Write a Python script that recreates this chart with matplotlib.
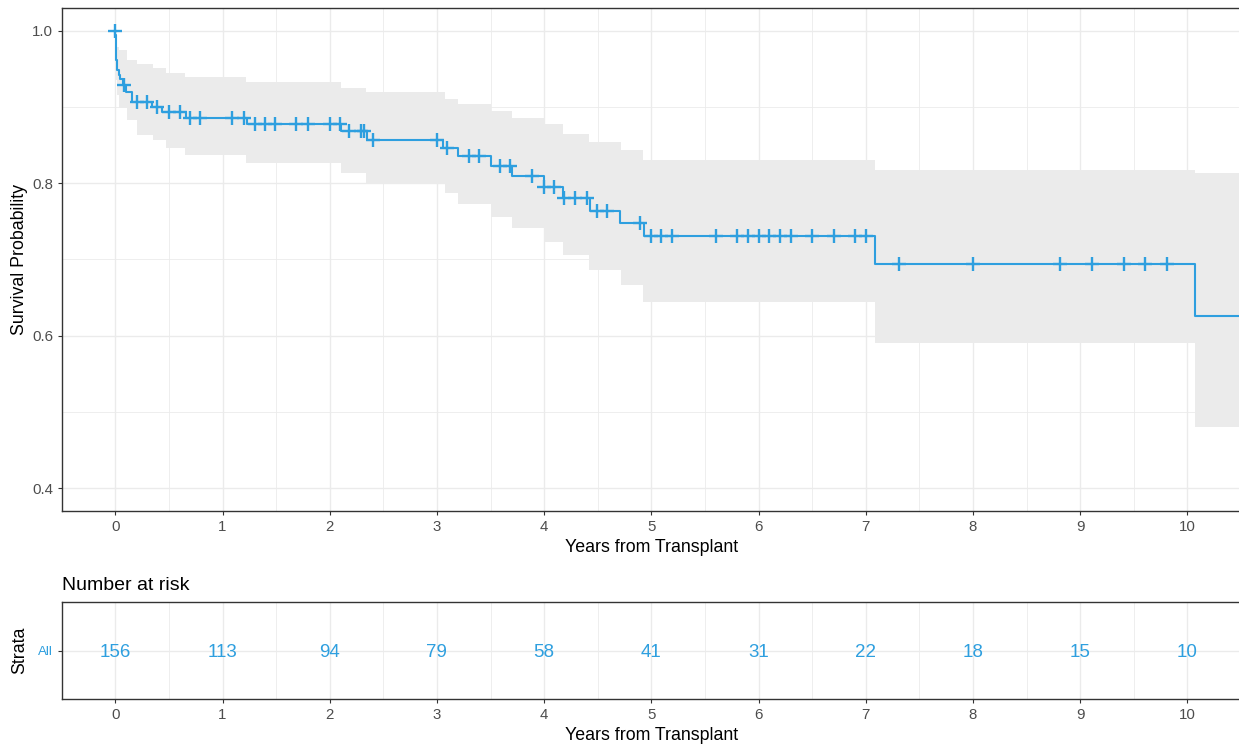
import numpy as np
import matplotlib
matplotlib.use("Agg")
import matplotlib.pyplot as plt
from matplotlib.ticker import MultipleLocator

plt.rcParams['font.family'] = ['Liberation Sans', 'DejaVu Sans']

# ---------------- data ----------------
event_times = [0, 0.001, 0.002, 0.003, 0.004, 0.005, 0.01, 0.015, 0.02, 0.03, 0.04,
               0.07, 0.10, 0.16, 0.34, 0.44, 0.66, 1.23, 2.11, 2.35, 3.06, 3.2,
               3.5, 3.7, 4.0, 4.18, 4.425, 4.71, 4.93, 7.09, 10.07]
surv = [1.0, 0.994, 0.987, 0.981, 0.974, 0.968, 0.962, 0.955, 0.949, 0.942, 0.936,
        0.929, 0.920, 0.907, 0.900, 0.893, 0.885, 0.877, 0.868, 0.857, 0.846, 0.835,
        0.823, 0.810, 0.795, 0.780, 0.764, 0.748, 0.731, 0.694, 0.626]
end_time = 10.5

ci_times = [0, 0.005, 0.01, 0.02, 0.03, 0.105, 0.2, 0.355, 0.47, 0.65, 1.22, 2.11,
            2.34, 3.08, 3.2, 3.5, 3.7, 4.0, 4.18, 4.42, 4.72, 4.92, 7.09, 10.07]
ci_upper = [1.0, 0.992, 0.985, 0.978, 0.975, 0.962, 0.956, 0.951, 0.945, 0.939, 0.933,
            0.925, 0.919, 0.911, 0.904, 0.895, 0.885, 0.877, 0.865, 0.854, 0.843,
            0.830, 0.817, 0.813]
ci_lower = [1.0, 0.960, 0.935, 0.915, 0.898, 0.883, 0.863, 0.857, 0.846, 0.837, 0.827,
            0.814, 0.800, 0.787, 0.773, 0.756, 0.741, 0.723, 0.706, 0.686, 0.666,
            0.644, 0.591, 0.481]

censor_times = [0, 0.085, 0.2, 0.3, 0.39, 0.5, 0.6, 0.70, 0.79, 1.09, 1.2, 1.30, 1.40,
                1.49, 1.69, 1.80, 2.0, 2.1, 2.18, 2.29, 2.32, 2.40, 3.0, 3.09, 3.30,
                3.39, 3.59, 3.68, 3.89, 4.0, 4.09, 4.19, 4.29, 4.40, 4.49, 4.59, 4.89,
                5.0, 5.09, 5.19, 5.6, 5.8, 5.9, 6.0, 6.1, 6.2, 6.3, 6.5, 6.7, 6.9, 7.0,
                7.31, 8.0, 8.81, 9.11, 9.41, 9.61, 9.81]

risk_times = [0, 1, 2, 3, 4, 5, 6, 7, 8, 9, 10]
risk_counts = [156, 113, 94, 79, 58, 41, 31, 22, 18, 15, 10]
strata_label = "All"

# ---------------- style ----------------
COL = "#2E9FDF"
GRID = "#EBEBEB"
BORDER = "#333333"
TICKLAB = "#4D4D4D"

W, H = 1239, 751
fig = plt.figure(figsize=(W / 100, H / 100), dpi=100)

def px_axes(left, top, right, bottom):
    return fig.add_axes([left / W, 1 - bottom / H, (right - left) / W, (bottom - top) / H])

ax = px_axes(61.7, 7.7, 1240.9, 511.3)
axr = px_axes(61.7, 602.3, 1240.9, 699.3)

def style(a):
    a.set_facecolor("white")
    for s in a.spines.values():
        s.set_color(BORDER)
        s.set_linewidth(1.0)
    a.tick_params(which='major', length=2.9, width=0.8, color=BORDER,
                  labelcolor=TICKLAB, labelsize=10.8, pad=3.4)
    a.tick_params(which='minor', length=0)
    a.grid(which='major', color=GRID, linewidth=1.0, zorder=0)
    a.grid(which='minor', color=GRID, linewidth=0.6, zorder=0)
    a.set_axisbelow(True)

# ---------------- survival panel ----------------
style(ax)
ci_t = list(ci_times) + [end_time]
ci_u = list(ci_upper) + [ci_upper[-1]]
ci_l = list(ci_lower) + [ci_lower[-1]]
ax.fill_between(ci_t, ci_l, ci_u, step='post', color="#EBEBEB", linewidth=0, zorder=1)

st = list(event_times) + [end_time]
ss = list(surv) + [surv[-1]]
ax.step(st, ss, where='post', color=COL, linewidth=1.5, zorder=3)

idx = np.searchsorted(np.array(event_times), np.array(censor_times), side='right') - 1
cens_s = np.array(surv)[idx]
ax.plot(censor_times, cens_s, linestyle='none', marker='+', markersize=9.5,
        markeredgewidth=1.7, color=COL, zorder=4)

ax.set_xlim(-0.5, 10.5)
ax.set_ylim(0.37, 1.03)
ax.xaxis.set_major_locator(MultipleLocator(1))
ax.xaxis.set_minor_locator(MultipleLocator(0.5))
ax.yaxis.set_major_locator(MultipleLocator(0.2))
ax.yaxis.set_minor_locator(MultipleLocator(0.1))
ax.set_yticks([0.4, 0.6, 0.8, 1.0])
ax.set_yticklabels(["0.4", "0.6", "0.8", "1.0"])
ax.set_xticks(range(0, 11))
ax.set_xlabel("Years from Transplant", fontsize=12.8, color="black")
ax.xaxis.set_label_coords(0.5, -(547 - 511.3) / (511.3 - 7.7))
ax.xaxis.label.set_va('center')
ax.set_ylabel("Survival Probability", fontsize=12.8, color="black")
ax.yaxis.set_label_coords(-(61.7 - 20) / (1240.9 - 61.7), 0.5)
ax.yaxis.label.set_va('center')

# ---------------- risk table ----------------
style(axr)
axr.set_xlim(-0.5, 10.5)
axr.set_ylim(0.4, 1.6)
axr.xaxis.set_major_locator(MultipleLocator(1))
axr.xaxis.set_minor_locator(MultipleLocator(0.5))
axr.set_xticks(range(0, 11))
axr.set_yticks([1.0])
axr.set_yticklabels([strata_label])
axr.tick_params(axis='y', labelsize=9.6, labelcolor=COL)
axr.grid(axis='y', which='major', color=GRID, linewidth=1.0)
for t, n in zip(risk_times, risk_counts):
    axr.text(t, 1.0, str(n), ha='center', va='center_baseline', fontsize=13.5, color=COL)
axr.set_xlabel("Years from Transplant", fontsize=12.8, color="black")
axr.xaxis.set_label_coords(0.5, -(735 - 699.3) / (699.3 - 602.3))
axr.xaxis.label.set_va('center')
axr.set_ylabel("Strata", fontsize=12.8, color="black")
axr.yaxis.set_label_coords(-(61.7 - 20) / (1240.9 - 61.7), 0.5)
axr.yaxis.label.set_va('center')

fig.text(62 / W, 1 - 585 / H, "Number at risk", fontsize=14, color="black",
         ha='left', va='center')

fig.savefig("out.png", dpi=100, facecolor="white")
